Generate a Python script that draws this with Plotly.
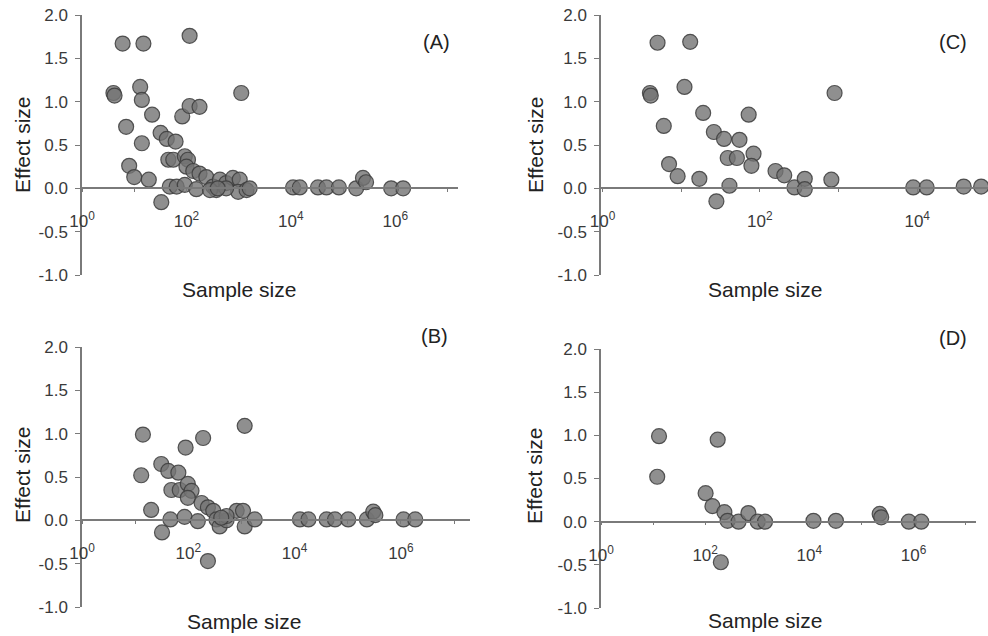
import plotly.graph_objects as go

# ---------------- data ----------------
# Panel A
a_n = [6, 15, 115, 4, 4.2, 13, 14, 22, 7, 14, 32, 42, 62, 83, 115, 178, 1120,
       8, 10, 19, 33, 45, 56, 93, 107, 100, 135, 178, 240, 48, 65, 93, 155,
       324, 372, 437, 575, 776, 1047, 977, 1413, 1622, 575, 282, 398,
       11000, 14800, 33000, 48000, 83000, 178000, 240000, 275000, 832000, 1410000]
a_es = [1.67, 1.67, 1.76, 1.10, 1.07, 1.17, 1.02, 0.85, 0.71, 0.52, 0.64, 0.57, 0.54, 0.83, 0.95, 0.94, 1.10,
        0.26, 0.13, 0.10, -0.16, 0.33, 0.33, 0.37, 0.33, 0.25, 0.20, 0.17, 0.13, 0.02, 0.02, 0.04, -0.01,
        0.02, -0.02, 0.10, 0.06, 0.12, 0.10, -0.04, -0.02, 0.0, 0.0, -0.02, 0.0,
        0.01, 0.01, 0.01, 0.01, 0.01, 0.0, 0.12, 0.07, 0.0, 0.0]

# Panel B
b_n = [14, 13, 20, 32, 46, 31, 42, 65, 48, 69, 89, 190, 1150, 98, 115, 98, 178, 234, 295,
       85, 151, 234, 339, 389, 525, 813, 1070, 1150, 1780, 525, 417,
       12600, 18200, 40000, 57500, 102000, 229000, 302000, 331000, 1120000, 1860000]
b_es = [0.99, 0.52, 0.12, -0.14, 0.01, 0.65, 0.57, 0.55, 0.35, 0.35, 0.84, 0.95, 1.09, 0.42, 0.34, 0.26, 0.20, 0.15, 0.11,
        0.04, -0.01, -0.47, 0.01, -0.07, 0.0, 0.11, 0.11, -0.07, 0.01, 0.05, 0.03,
        0.01, 0.01, 0.01, 0.01, 0.01, 0.01, 0.10, 0.06, 0.01, 0.01]

# Panel C
c_n = [5, 13, 4, 4.1, 11, 19, 72, 6, 26, 35, 55, 39, 51, 83, 78, 7, 9, 17, 28, 41,
       158, 204, 275, 372, 372, 890, 810, 8900, 13200, 39000, 65000]
c_es = [1.68, 1.69, 1.10, 1.07, 1.17, 0.87, 0.85, 0.72, 0.65, 0.57, 0.56, 0.35, 0.35, 0.40, 0.26, 0.28, 0.14, 0.11, -0.15, 0.03,
        0.20, 0.15, 0.01, 0.11, -0.01, 1.10, 0.10, 0.01, 0.01, 0.02, 0.02]

# Panel D
d_n = [13, 12, 174, 102, 138, 234, 269, 437, 676, 1020, 1410, 200,
       12000, 32400, 224000, 240000, 813000, 1410000]
d_es = [0.99, 0.52, 0.95, 0.33, 0.18, 0.11, 0.01, 0.0, 0.10, 0.0, 0.0, -0.47,
        0.01, 0.01, 0.09, 0.05, 0.0, 0.0]

panel_labels = ["(A)", "(B)", "(C)", "(D)"]
y_tickvals = [-1.0, -0.5, 0.0, 0.5, 1.0, 1.5, 2.0]
y_ticktext = ["-1.0", "-0.5", "0.0", "0.5", "1.0", "1.5", "2.0"]
x_tickvals = [1, 10, 100, 1000, 1e4, 1e5, 1e6, 1e7]
x_ticktext = ["10<sup>0</sup>", "", "10<sup>2</sup>", "", "10<sup>4</sup>", "", "10<sup>6</sup>", ""]
x_title = "Sample size"
y_title = "Effect size"

# ---------------- layout geometry ----------------
W, H = 988, 636
FONT = "Liberation Sans, Arial, sans-serif"
TXT = "#3a3a3a"
AXC = "#7a7a7a"

# (x data, y data, x left px, x right px, log range, y top px, y bottom px,
#  panel label (right x, center y), x title (left x, center y), y title (center x, center y))
panels = [
    (a_n, a_es, 82, 458, [0, 7.2], 15, 275, (452, 42), (180, 289), (22, 145)),
    (b_n, b_es, 82, 470, [0, 7.3], 347, 607, (450, 336), (185, 621), (22, 475)),
    (c_n, c_es, 601, 988, [-0.02, 4.9], 15, 275, (969, 42), (706, 289), (535, 145)),
    (d_n, d_es, 601, 976, [0, 7.2], 349, 608, (969, 338), (706, 620), (535, 476)),
]

fig = go.Figure()
annotations = []
layout = {}
for i, (xs, ys, xl, xr, xrng, yt, yb, lab, xtp, ytp) in enumerate(panels):
    k = "" if i == 0 else str(i + 1)
    xa, ya = "x" + k, "y" + k
    ydom = [1 - yb / H, 1 - yt / H]
    zero_pos = ydom[0] + (ydom[1] - ydom[0]) * (0 - (-1)) / 3.0
    fig.add_trace(go.Scatter(
        x=xs, y=ys, mode="markers", xaxis=xa, yaxis=ya,
        marker=dict(size=15, color="rgba(115,115,115,0.8)",
                    line=dict(color="rgba(60,60,60,0.85)", width=1.2)),
        showlegend=False, cliponaxis=False))
    layout["xaxis" + k] = dict(
        domain=[xl / W, min(xr / W, 1.0)], type="log", range=xrng,
        anchor="free", position=zero_pos, automargin=False,
        showline=True, linecolor=AXC, linewidth=1.5,
        ticks="outside", ticklen=3, tickcolor=AXC, tickwidth=1,
        tickvals=x_tickvals, ticktext=x_ticktext,
        tickfont=dict(family=FONT, size=17, color=TXT),
        ticklabelstandoff=15,
        showgrid=False, zeroline=False)
    layout["yaxis" + k] = dict(
        domain=ydom, range=[-1, 2], anchor=xa, automargin=False,
        showline=True, linecolor=AXC, linewidth=1.5,
        ticks="outside", ticklen=5, tickcolor=AXC, tickwidth=1,
        tickvals=y_tickvals, ticktext=y_ticktext,
        tickfont=dict(family=FONT, size=17, color=TXT),
        ticklabelstandoff=4,
        showgrid=False, zeroline=False)
    annotations.append(dict(text=panel_labels[i], x=lab[0] / W, y=1 - lab[1] / H,
                            xref="paper", yref="paper", showarrow=False,
                            xanchor="right", yanchor="middle",
                            font=dict(family=FONT, size=20, color="#222222")))
    annotations.append(dict(text=x_title, x=xtp[0] / W, y=1 - xtp[1] / H,
                            xref="paper", yref="paper", showarrow=False,
                            xanchor="left", yanchor="middle",
                            font=dict(family=FONT, size=21, color="#222222")))
    annotations.append(dict(text=y_title, x=ytp[0] / W, y=1 - ytp[1] / H,
                            xref="paper", yref="paper", showarrow=False, textangle=-90,
                            xanchor="center", yanchor="middle",
                            font=dict(family=FONT, size=21, color="#222222")))

fig.update_layout(
    width=W, height=H, margin=dict(l=0, r=0, t=0, b=0, autoexpand=False),
    paper_bgcolor="white", plot_bgcolor="rgba(0,0,0,0)",
    annotations=annotations, **layout)

fig.write_html("out.html", config={"displayModeBar": False},
               post_script="document.body.style.margin='0';document.body.style.padding='0';")
